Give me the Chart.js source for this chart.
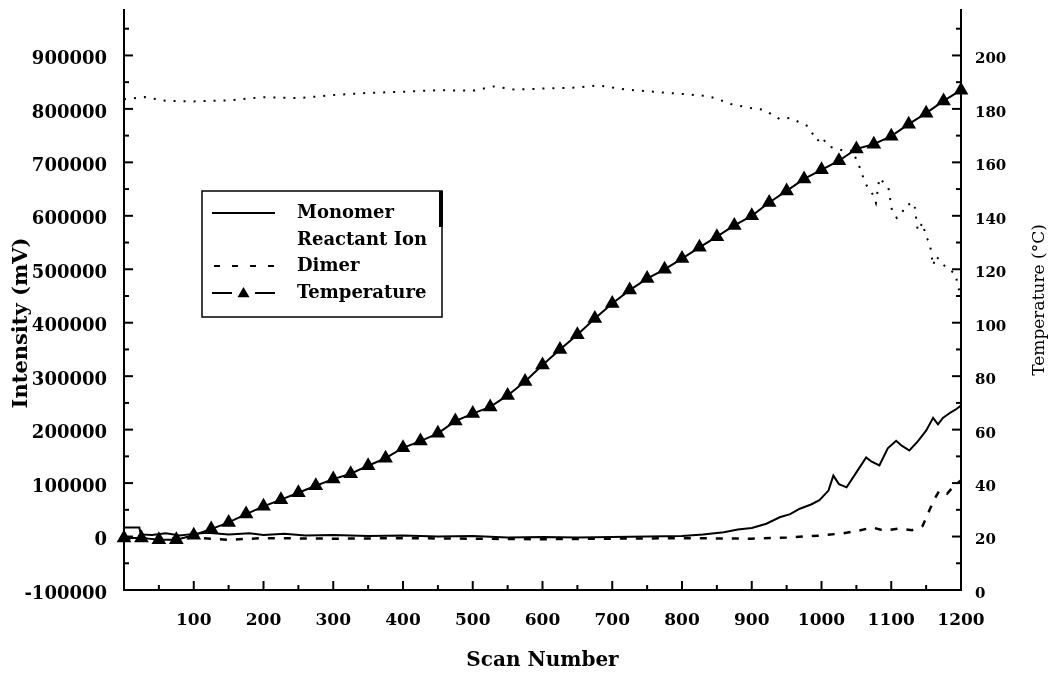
<!DOCTYPE html>
<html>
<head>
<meta charset="utf-8">
<script src="https://cdn.jsdelivr.net/npm/chart.js@4.4.1/dist/chart.umd.min.js"></script>
<style>
  html, body { margin: 0; padding: 0; background: #fff; }
  #wrap { width: 1054px; height: 673px; }
</style>
</head>
<body>
<div id="wrap"><canvas id="scanChart"></canvas></div>
<script>
// ==== Data ====
const monomerScans = [0, 22, 24, 40, 60, 80, 100, 120, 150, 180, 200, 230, 260, 300, 350, 400, 450, 500, 550, 600, 650, 700, 750, 800, 830, 860, 880, 900, 921, 940, 955, 969, 985, 997, 1010, 1017, 1025, 1036, 1050, 1064, 1072, 1083, 1095, 1107, 1115, 1126, 1138, 1150, 1160, 1167, 1174, 1185, 1194, 1200];
const monomerIntensity = [17000, 17000, 4000, 3000, 6000, 2000, 5000, 7000, 4000, 6000, 3000, 5000, 2000, 3000, 1000, 2000, 0, 1000, -2000, -1000, -2000, -1000, 0, 1000, 4000, 8000, 13000, 16000, 24000, 36000, 42000, 52000, 60000, 68000, 86000, 114000, 98000, 92000, 120000, 148000, 140000, 133000, 165000, 179000, 170000, 161000, 178000, 198000, 222000, 210000, 222000, 232000, 239000, 245000];

const reactantScans = [0, 30, 60, 100, 150, 200, 250, 300, 350, 400, 450, 500, 530, 560, 600, 650, 680, 720, 760, 800, 836, 850, 870, 897, 918, 940, 955, 980, 994, 1000, 1010, 1034, 1046, 1050, 1055, 1060, 1065, 1073, 1078, 1083, 1096, 1101, 1108, 1114, 1121, 1133, 1138, 1145, 1150, 1155, 1160, 1164, 1180, 1192, 1196, 1200];
const reactantIntensity = [818000, 822000, 815000, 814000, 816000, 822000, 820000, 826000, 830000, 832000, 835000, 834000, 842000, 836000, 838000, 840000, 844000, 836000, 832000, 828000, 824000, 819000, 809000, 802000, 798000, 781000, 783000, 768000, 740000, 748000, 730000, 721000, 722000, 703000, 690000, 671000, 656000, 641000, 624000, 671000, 652000, 610000, 596000, 602000, 620000, 624000, 572000, 587000, 560000, 550000, 507000, 525000, 501000, 492000, 465000, 455000];

const dimerScans = [0, 50, 100, 150, 200, 300, 400, 500, 600, 700, 800, 900, 950, 1000, 1030, 1050, 1073, 1090, 1110, 1130, 1145, 1155, 1162, 1169, 1180, 1190, 1200];
const dimerIntensity = [-3000, -5000, -2000, -6000, -3000, -4000, -3000, -4000, -5000, -4000, -3000, -4000, -2000, 2000, 6000, 10000, 17000, 11000, 15000, 12000, 20000, 50000, 70000, 86000, 80000, 95000, 105000];

const tempScans = [0, 25, 50, 75, 100, 125, 150, 175, 200, 225, 250, 275, 300, 325, 350, 375, 400, 425, 450, 475, 500, 525, 550, 575, 600, 625, 650, 675, 700, 725, 750, 775, 800, 825, 850, 875, 900, 925, 950, 975, 1000, 1025, 1050, 1075, 1100, 1125, 1150, 1175, 1200];
const tempValues = [19.5, 19.5, 18.8, 18.8, 20.5, 22.8, 25.3, 28.4, 31.3, 33.8, 36.4, 39, 41.5, 43.5, 46.5, 49.3, 53.2, 55.7, 58.6, 63.2, 66, 68.5, 72.8, 78, 84.2, 90, 95.5, 101.6, 107.2, 112.2, 116.5, 120, 124, 128.2, 132.2, 136.4, 140, 145, 149.3, 153.8, 157.2, 160.6, 165, 166.8, 169.8, 174.3, 178.4, 183, 187];

const seriesNames = ["Monomer", "Reactant Ion", "Dimer", "Temperature"];
const xTicks = [100, 200, 300, 400, 500, 600, 700, 800, 900, 1000, 1100, 1200];
const leftTicks = [-100000, 0, 100000, 200000, 300000, 400000, 500000, 600000, 700000, 800000, 900000];
const rightTicks = [0, 20, 40, 60, 80, 100, 120, 140, 160, 180, 200];

const xTitle = "Scan Number";
const leftTitle = "Intensity (mV)";
const rightTitle = "Temperature (°C)";

// ==== Styles ====
const FONT = "DejaVu Serif";
const INK = "#000";

const toPoints = (xs, ys) => xs.map((x, i) => ({ x: x, y: ys[i] }));
const fixTicks = list => scale => { scale.ticks = list.map(v => ({ value: v })); };
const plain = v => String(v);

// ==== Inward ticks, axis titles and the boxed legend ====
const decor = {
  id: "decor",
  afterDraw(chart) {
    const { ctx, chartArea: a, scales } = chart;
    ctx.save();
    ctx.strokeStyle = INK;
    ctx.fillStyle = INK;
    ctx.lineWidth = 2;

    const tick = (x1, y1, x2, y2) => { ctx.beginPath(); ctx.moveTo(x1, y1); ctx.lineTo(x2, y2); ctx.stroke(); };

    // x axis ticks (point up into the plot)
    xTicks.forEach(v => { const x = scales.x.getPixelForValue(v); tick(x, a.bottom, x, a.bottom - 9); });
    [0].concat(xTicks).map(v => v + 50).filter(v => v < 1200).forEach(v => {
      const x = scales.x.getPixelForValue(v); tick(x, a.bottom, x, a.bottom - 5);
    });
    // left ticks
    leftTicks.forEach(v => { const y = scales.y.getPixelForValue(v); tick(a.left, y, a.left + 9, y); });
    leftTicks.map(v => v + 50000).filter(v => v < scales.y.max).forEach(v => {
      const y = scales.y.getPixelForValue(v); tick(a.left, y, a.left + 5, y);
    });
    // right ticks
    rightTicks.forEach(v => { const y = scales.y2.getPixelForValue(v); tick(a.right, y, a.right - 9, y); });
    rightTicks.map(v => v + 10).filter(v => v < scales.y2.max).forEach(v => {
      const y = scales.y2.getPixelForValue(v); tick(a.right, y, a.right - 5, y);
    });

    // axis titles
    ctx.textAlign = "center";
    ctx.textBaseline = "middle";
    ctx.font = "bold 20px '" + FONT + "'";
    ctx.fillText(xTitle, (a.left + a.right) / 2, 661);
    ctx.save();
    ctx.font = "bold 21px '" + FONT + "'";
    ctx.translate(22, 323);
    ctx.rotate(-Math.PI / 2);
    ctx.fillText(leftTitle, 0, 0);
    ctx.restore();
    ctx.save();
    ctx.font = "17px '" + FONT + "'";
    ctx.translate(1040, 300);
    ctx.rotate(-Math.PI / 2);
    ctx.fillText(rightTitle, 0, 0);
    ctx.restore();

    // legend box
    const bx = 202, by = 191, bw = 240, bh = 126;
    ctx.lineWidth = 1.5;
    ctx.strokeRect(bx, by, bw, bh);
    ctx.fillRect(bx + bw - 3, by, 4, 36);

    const rowY = [213, 240, 266, 293];
    const sx1 = 212, sx2 = 275, tx = 297;
    ctx.font = "bold 18px '" + FONT + "'";
    ctx.textAlign = "left";
    seriesNames.forEach((name, i) => ctx.fillText(name, tx, rowY[i]));

    ctx.lineWidth = 2;
    // Monomer: solid
    tick(sx1, rowY[0], sx2, rowY[0]);
    // Reactant Ion: sparse dots too faint to show in the sample
    // Dimer: short dashes
    ctx.setLineDash([6, 12]);
    tick(sx1 + 2, rowY[2], sx2, rowY[2]);
    ctx.setLineDash([]);
    // Temperature: line with a triangle marker
    tick(sx1, rowY[3], sx1 + 20, rowY[3]);
    tick(sx2 - 20, rowY[3], sx2, rowY[3]);
    const cx = (sx1 + sx2) / 2, r = 6;
    ctx.beginPath();
    ctx.moveTo(cx, rowY[3] - r);
    ctx.lineTo(cx + r, rowY[3] + r * 0.7);
    ctx.lineTo(cx - r, rowY[3] + r * 0.7);
    ctx.closePath();
    ctx.fill();

    ctx.restore();
  }
};

// ==== Chart ====
const chart = new Chart(document.getElementById("scanChart"), {
  type: "line",
  data: {
    datasets: [
      {
        label: seriesNames[0],
        data: toPoints(monomerScans, monomerIntensity),
        yAxisID: "y",
        borderColor: INK,
        borderWidth: 2,
        pointRadius: 0
      },
      {
        label: seriesNames[1],
        data: toPoints(reactantScans, reactantIntensity),
        yAxisID: "y",
        borderColor: INK,
        borderWidth: 2,
        borderDash: [2, 8],
        pointRadius: 0
      },
      {
        label: seriesNames[2],
        data: toPoints(dimerScans, dimerIntensity),
        yAxisID: "y",
        borderColor: INK,
        borderWidth: 2.5,
        borderDash: [7, 9],
        pointRadius: 0
      },
      {
        label: seriesNames[3],
        data: toPoints(tempScans, tempValues),
        yAxisID: "y2",
        borderColor: INK,
        borderWidth: 2,
        pointStyle: "triangle",
        pointRadius: 6.5,
        pointBackgroundColor: INK,
        pointBorderColor: INK,
        clip: 8
      }
    ]
  },
  options: {
    responsive: true,
    maintainAspectRatio: false,
    animation: false,
    layout: { padding: { top: 10 } },
    plugins: { legend: { display: false }, tooltip: { enabled: false } },
    scales: {
      x: {
        type: "linear",
        min: 0,
        max: 1200,
        grid: { display: false, drawTicks: false },
        border: { display: true, color: INK, width: 2 },
        ticks: { font: { family: FONT, size: 17, weight: "bold" }, color: INK, padding: 20, maxRotation: 0, callback: plain },
        afterBuildTicks: fixTicks(xTicks),
        afterFit: s => { s.height = 83; s.paddingLeft = 0; s.paddingRight = 0; }
      },
      y: {
        type: "linear",
        position: "left",
        min: -100000,
        max: 985000,
        grid: { display: false, drawTicks: false },
        border: { display: true, color: INK, width: 2 },
        ticks: { font: { family: FONT, size: 18, weight: "bold" }, color: INK, padding: 17, labelOffset: 4, callback: plain },
        afterBuildTicks: fixTicks(leftTicks),
        afterFit: s => { s.width = 124; s.paddingTop = 0; s.paddingBottom = 0; }
      },
      y2: {
        type: "linear",
        position: "right",
        min: 0,
        max: 217,
        grid: { display: false, drawTicks: false },
        border: { display: true, color: INK, width: 2 },
        ticks: { font: { family: FONT, size: 15, weight: "bold" }, color: INK, padding: 14, labelOffset: 4, callback: plain },
        afterBuildTicks: fixTicks(rightTicks),
        afterFit: s => { s.width = 93; s.paddingTop = 0; s.paddingBottom = 0; }
      }
    }
  },
  plugins: [decor]
});
</script>
</body>
</html>
